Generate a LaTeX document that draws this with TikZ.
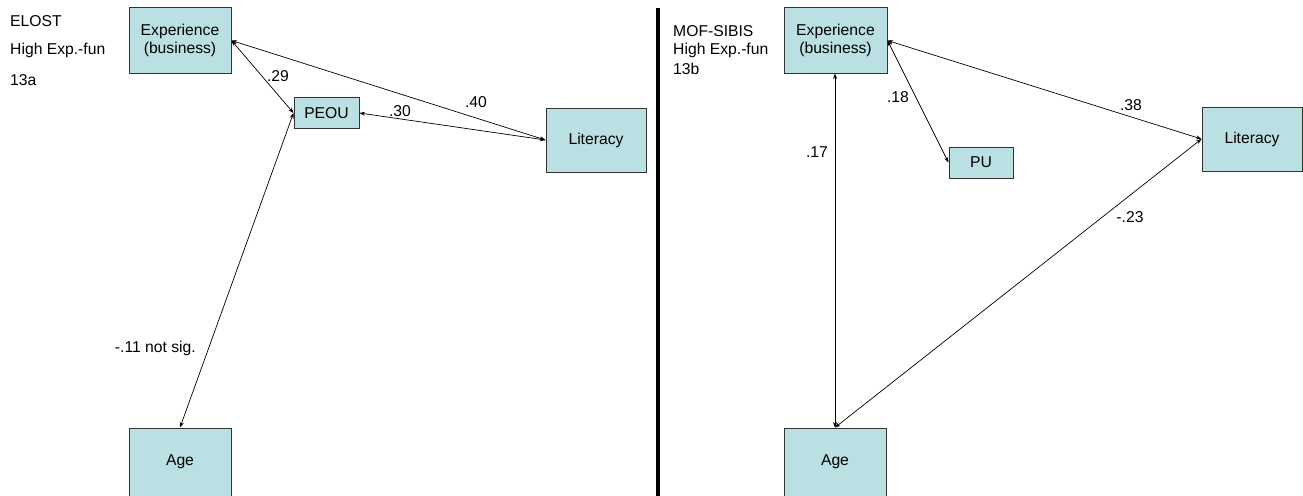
\documentclass[tikz,border=0pt]{standalone}
\usepackage{fontspec}
\setmainfont{Liberation Sans}
\usetikzlibrary{arrows.meta}
\definecolor{boxfill}{HTML}{BBE0E3}
\definecolor{boxline}{HTML}{333333}
\begin{document}
\begin{tikzpicture}[x=1pt,y=-1pt,
  every node/.style={font=\fontsize{15.7}{18.5}\selectfont, inner sep=0pt},
  var/.style={draw=boxline, line width=1pt, fill=boxfill, align=center},
  biarrow/.style={line width=0.7pt, {Stealth[length=5.5pt,width=4pt]}-{Stealth[length=5.5pt,width=4pt]}},
]
\useasboundingbox (0,0) rectangle (1303,495);
\clip (0,0) rectangle (1303,495);
\fill[white] (0,0) rectangle (1303,495);

% separator
\fill[black] (656,8) rectangle (660,500);

% left panel
\node[anchor=west] (t1) at (10,21) {ELOST};
\node[anchor=west] (t2) at (10,50) {High Exp.-fun};
\node[anchor=west] (t3) at (10,80) {13a};

\node[var, minimum width=102pt, minimum height=65pt] (expL) at (180,40.5) {Experience\\(business)};
\node[var, minimum width=65pt, minimum height=31pt] (peou) at (326.5,113) {PEOU};
\node[var, minimum width=100pt, minimum height=64pt] (litL) at (596,140) {Literacy};
\node[var, minimum width=102pt, minimum height=68pt] (ageL) at (180,462) {Age};

\draw[biarrow] (expL.east) -- (peou.west);
\draw[biarrow] (expL.east) -- (litL.west);
\draw[biarrow] (peou.east) -- (litL.west);
\draw[biarrow] (ageL.north) -- (peou.west);

\node (l29) at (278,76) {.29};
\node (l30) at (400,111) {.30};
\node (l40) at (476,102) {.40};
\node[anchor=east] (l11) at (196,348) {-.11 not sig.};

% right panel
\node[anchor=west] (r1) at (673,31) {MOF-SIBIS};
\node[anchor=west] (r2) at (673,50) {High Exp.-fun};
\node[anchor=west] (r3) at (673,68.5) {13b};

\node[var, minimum width=103pt, minimum height=65pt] (expR) at (835.5,40.5) {Experience\\(business)};
\node[var, minimum width=64pt, minimum height=31pt] (pu) at (981,162.5) {PU};
\node[var, minimum width=100pt, minimum height=64pt] (litR) at (1252,139) {Literacy};
\node[var, minimum width=102pt, minimum height=68pt] (ageR) at (835,462) {Age};

\draw[biarrow] (expR.east) -- (litR.west);
\draw[biarrow] (expR.east) -- (pu.west);
\draw[biarrow] (ageR.north) -- (ageR.north |- expR.south);
\draw[biarrow] (ageR.north) -- (litR.west);

\node (l18) at (898,97) {.18};
\node (l17) at (817,152) {.17};
\node (l38) at (1131,105) {.38};
\node (l23) at (1130,217) {-.23};
\end{tikzpicture}
\end{document}
